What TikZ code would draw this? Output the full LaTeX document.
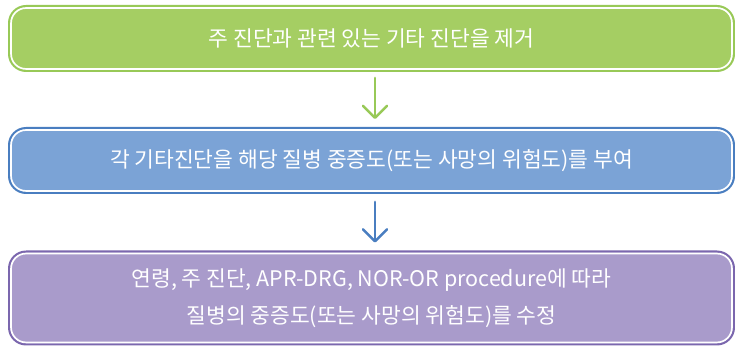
\documentclass[tikz,border=0pt]{standalone}
\usepackage{fontspec}
\setmainfont{Noto Sans CJK KR}
\usetikzlibrary{arrows.meta}
\definecolor{gfill}{HTML}{A5CE63}
\definecolor{gline}{HTML}{98C957}
\definecolor{bfill}{HTML}{7BA3D6}
\definecolor{bline}{HTML}{4A7EC0}
\definecolor{pfill}{HTML}{A99BCB}
\definecolor{pline}{HTML}{7B67AE}
\tikzset{
  stepbox/.style={rectangle, rounded corners=17pt, line width=2.2pt, outer sep=0pt,
    minimum width=724.8pt, text=white, font=\fontsize{21.5pt}{37pt}\selectfont, align=center},
  innerline/.style={draw=white, line width=1.7pt, rounded corners=15pt},
  flow/.style={line width=2.5pt, line cap=round, -{Straight Barb[length=12pt,width=24pt,line cap=round,line join=round]}}
}
\begin{document}
\begin{tikzpicture}[x=1pt,y=1pt]
\useasboundingbox (0,0) rectangle (735,347);
\node[stepbox, draw=gline, fill=gfill, minimum height=64.8pt] (b1) at (371.5,308.5) {주 진단과 관련 있는 기타 진단을 제거};
\node[stepbox, draw=bline, fill=bfill, minimum height=64.8pt] (b2) at (371.5,186.5) {각 기타진단을 해당 질병 중증도(또는 사망의 위험도)를 부여};
\node[stepbox, draw=pline, fill=pfill, minimum height=92.8pt] (b3) at (371.5,49) {연령, 주 진단, APR-DRG, NOR-OR procedure에 따라\\질병의 중증도(또는 사망의 위험도)를 수정};
\foreach \n in {b1,b2,b3}
  \draw[innerline] ([shift={(1.95pt,1.95pt)}]\n.south west) rectangle ([shift={(-1.95pt,-1.95pt)}]\n.north east);
\draw[flow, draw=gline, shorten <=7pt, shorten >=9pt] ([xshift=3.5pt]b1.south) -- ([xshift=3.5pt]b2.north);
\draw[flow, draw=bline, shorten <=9pt, shorten >=9pt] ([xshift=3.5pt]b2.south) -- ([xshift=3.5pt]b3.north);
\end{tikzpicture}
\end{document}
